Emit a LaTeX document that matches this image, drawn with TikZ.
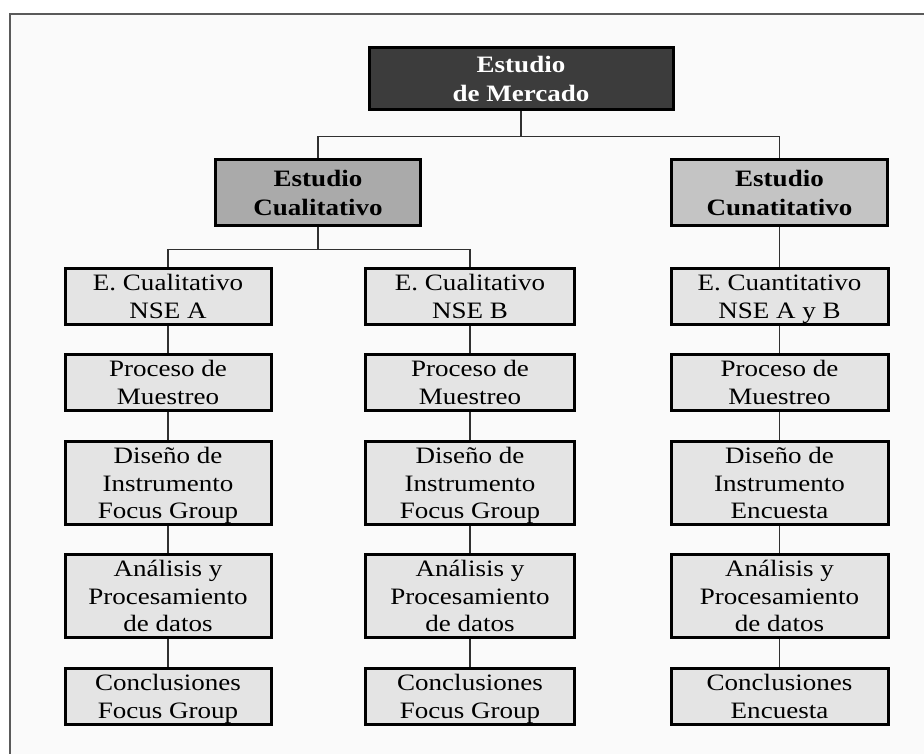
\documentclass[tikz,border=0pt]{standalone}
\usepackage{fontspec}
\setmainfont{Liberation Serif}[FakeStretch=1.15]
\definecolor{topfill}{HTML}{3C3C3C}
\definecolor{qualfill}{HTML}{AAAAAA}
\definecolor{quanfill}{HTML}{C4C4C4}
\definecolor{leaffill}{HTML}{E4E4E4}
\definecolor{bgfill}{HTML}{FAFAFA}
\definecolor{framecol}{HTML}{5A5A5A}
\definecolor{linecol}{HTML}{303030}
\newcommand{\cellbox}[1]{\raisebox{-2.5pt}[\height][\depth]{\begin{tabular}{@{}c@{}}#1\end{tabular}}}
\begin{document}
\begin{tikzpicture}[x=1pt,y=-1pt,
  box/.style={draw=black, line width=3pt, inner sep=0pt,
    font=\fontsize{23.5}{27.5}\selectfont},
  headbox/.style={box, font=\fontsize{23.5}{29}\selectfont\bfseries},
  leafA/.style={box, fill=leaffill, minimum width=206pt},
  leafB/.style={box, fill=leaffill, minimum width=209pt},
  leafC/.style={box, fill=leaffill, minimum width=217pt},
  short/.style={minimum height=56pt},
  tall/.style={minimum height=83pt},
  conn/.style={draw=linecol, line width=1.5pt}]
\useasboundingbox (0,0) rectangle (924,754);
\fill[white] (0,0) rectangle (924,754);
\fill[bgfill] (10,14) rectangle (924,754);
\draw[framecol, line width=2.5pt] (10,754) -- (10,14) -- (924,14);

% top level
\node[headbox, fill=topfill, text=white, minimum width=304pt, minimum height=62pt] (top) at (521,78.5) {\cellbox{Estudio\\de Mercado}};
% second level
\node[headbox, fill=qualfill, minimum width=205pt, minimum height=66pt] (qual) at (318,192.5) {\cellbox{Estudio\\Cualitativo}};
\node[headbox, fill=quanfill, minimum width=216pt, minimum height=66pt] (quan) at (779.5,192.5) {\cellbox{Estudio\\Cunatitativo}};

% column A
\node[leafA, short] (a1) at (168,296.5) {\cellbox{E. Cualitativo\\NSE A}};
\node[leafA, short] (a2) at (168,382.5) {\cellbox{Proceso de\\Muestreo}};
\node[leafA, tall]  (a3) at (168,483) {\cellbox{Diseño de\\Instrumento\\Focus Group}};
\node[leafA, tall]  (a4) at (168,596) {\cellbox{Análisis y\\Procesamiento\\de datos}};
\node[leafA, short] (a5) at (168,696.5) {\cellbox{Conclusiones\\Focus Group}};
% column B
\node[leafB, short] (b1) at (470,296.5) {\cellbox{E. Cualitativo\\NSE B}};
\node[leafB, short] (b2) at (470,382.5) {\cellbox{Proceso de\\Muestreo}};
\node[leafB, tall]  (b3) at (470,483) {\cellbox{Diseño de\\Instrumento\\Focus Group}};
\node[leafB, tall]  (b4) at (470,596) {\cellbox{Análisis y\\Procesamiento\\de datos}};
\node[leafB, short] (b5) at (470,696.5) {\cellbox{Conclusiones\\Focus Group}};
% column C
\node[leafC, short] (c1) at (779.5,296.5) {\cellbox{E. Cuantitativo\\NSE A y B}};
\node[leafC, short] (c2) at (779.5,382.5) {\cellbox{Proceso de\\Muestreo}};
\node[leafC, tall]  (c3) at (779.5,483) {\cellbox{Diseño de\\Instrumento\\Encuesta}};
\node[leafC, tall]  (c4) at (779.5,596) {\cellbox{Análisis y\\Procesamiento\\de datos}};
\node[leafC, short] (c5) at (779.5,696.5) {\cellbox{Conclusiones\\Encuesta}};

% connectors
\path (top.south) ++(0,25.5) coordinate (j1);
\draw[conn] (top.south) -- (j1);
\draw[conn] (qual.north) |- (j1) -| (quan.north);
\path (qual.south) ++(0,22.5) coordinate (j2);
\draw[conn] (qual.south) -- (j2);
\draw[conn] (a1.north) |- (j2) -| (b1.north);
\draw[conn] (quan.south) -- (c1.north);
\foreach \c in {a,b,c}{
  \draw[conn] (\c1.south) -- (\c2.north);
  \draw[conn] (\c2.south) -- (\c3.north);
  \draw[conn] (\c3.south) -- (\c4.north);
  \draw[conn] (\c4.south) -- (\c5.north);
}
\end{tikzpicture}
\end{document}
